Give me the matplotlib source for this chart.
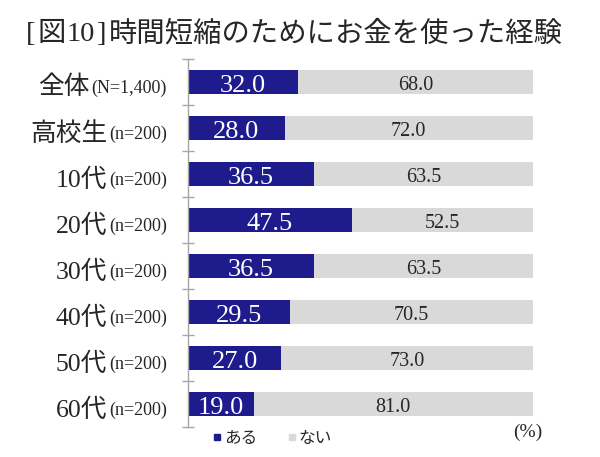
import matplotlib
matplotlib.use('Agg')
import matplotlib.pyplot as plt
from matplotlib.lines import Line2D
from matplotlib.transforms import offset_copy, blended_transform_factory
import numpy as np

title_parts = ["[", "図", "10", "]", "時間短縮のためにお金を使った経験"]
groups = ["全体", "高校生", "10代", "20代", "30代", "40代", "50代", "60代"]
sizes = ["(N=1,400)", "(n=200)", "(n=200)", "(n=200)", "(n=200)", "(n=200)", "(n=200)", "(n=200)"]
aru = [32.0, 28.0, 36.5, 47.5, 36.5, 29.5, 27.0, 19.0]
nai = [68.0, 72.0, 63.5, 52.5, 63.5, 70.5, 73.0, 81.0]
series_names = ["ある", "ない"]
unit = "(%)"

BLUE = '#1e1c8c'
GRAY = '#d9d9d9'
AXC = '#a6a6a6'
TXT = '#262626'

FAM = ['Liberation Serif', 'Noto Sans CJK JP']
plt.rcParams['font.family'] = FAM

fig = plt.figure(figsize=(6, 4.57), dpi=100)
W, H = 600, 457
ax = fig.add_axes([188 / W, 30 / H, 345 / W, 368 / H])
n = len(groups)
y = np.arange(n)
ax.barh(y, aru, height=0.52, color=BLUE)
ax.barh(y, nai, left=aru, height=0.52, color=GRAY)
ax.set_xlim(0, 100)
ax.set_ylim(n - 0.5, -0.5)
for s in ['top', 'right', 'bottom']:
    ax.spines[s].set_visible(False)
ax.spines['left'].set_color(AXC)
ax.spines['left'].set_linewidth(1.0)
ax.set_xticks([])
ax.set_yticks(np.arange(n + 1) - 0.5)
ax.set_yticklabels([])
ax.tick_params(axis='y', direction='inout', length=9, color=AXC, width=1.0)

# value labels
for i in range(n):
    a, b = aru[i], nai[i]
    tr = offset_copy(ax.transData, fig=fig, x=0, y=-10.5, units='dots')
    ax.text(a / 2, i, f"{a:.1f}", transform=tr, ha='center', va='baseline',
            fontsize=19, color='white')
    tr2 = offset_copy(ax.transData, fig=fig, x=0, y=-8, units='dots')
    ax.text(a + b / 2, i, f"{b:.1f}", transform=tr2, ha='center', va='baseline',
            fontsize=14.5, color=TXT)

# category labels (two parts)
fig.canvas.draw()
renderer = fig.canvas.get_renderer()
blend = blended_transform_factory(ax.transAxes, ax.transData)
axx = ax.transAxes.transform((0, 0))[0]
for i in range(n):
    tr = offset_copy(blend, fig=fig, x=-21, y=-10.5, units='dots')
    t_small = ax.text(0, i, sizes[i], transform=tr, ha='right', va='baseline',
                      fontsize=13, color=TXT)
    ext = t_small.get_window_extent(renderer)
    dx = ext.x0 - axx - 2
    tr_b = offset_copy(blend, fig=fig, x=dx, y=-12.5, units='dots')
    ax.text(0, i, groups[i], transform=tr_b, ha='right', va='baseline',
            fontsize=18.5, color=TXT)

# title, drawn piece by piece so the brackets stay narrow
x_px = 26.0
ty = 1 - 41 / H
for k, part in enumerate(title_parts):
    t = fig.text(x_px / W, ty, part, ha='left', va='baseline', fontsize=20.4, color=TXT)
    e = t.get_window_extent(renderer)
    x_px = e.x1 + (1.5 if k < 3 else 3.0)

# legend
handles = [Line2D([], [], marker='s', linestyle='none', markersize=5, color=BLUE),
           Line2D([], [], marker='s', linestyle='none', markersize=5, color=GRAY)]
fig.legend(handles, series_names, loc='center left', bbox_to_anchor=(212 / W, 1 - 439 / H),
           ncol=2, frameon=False, handletextpad=0.1, columnspacing=1.8, handlelength=0.6,
           fontsize=12, labelcolor=TXT, borderaxespad=0, borderpad=0)

fig.text(528 / W, 1 - 432 / H, unit, ha='center', va='center', fontsize=14, color=TXT)

fig.savefig('out.png', dpi=100)
